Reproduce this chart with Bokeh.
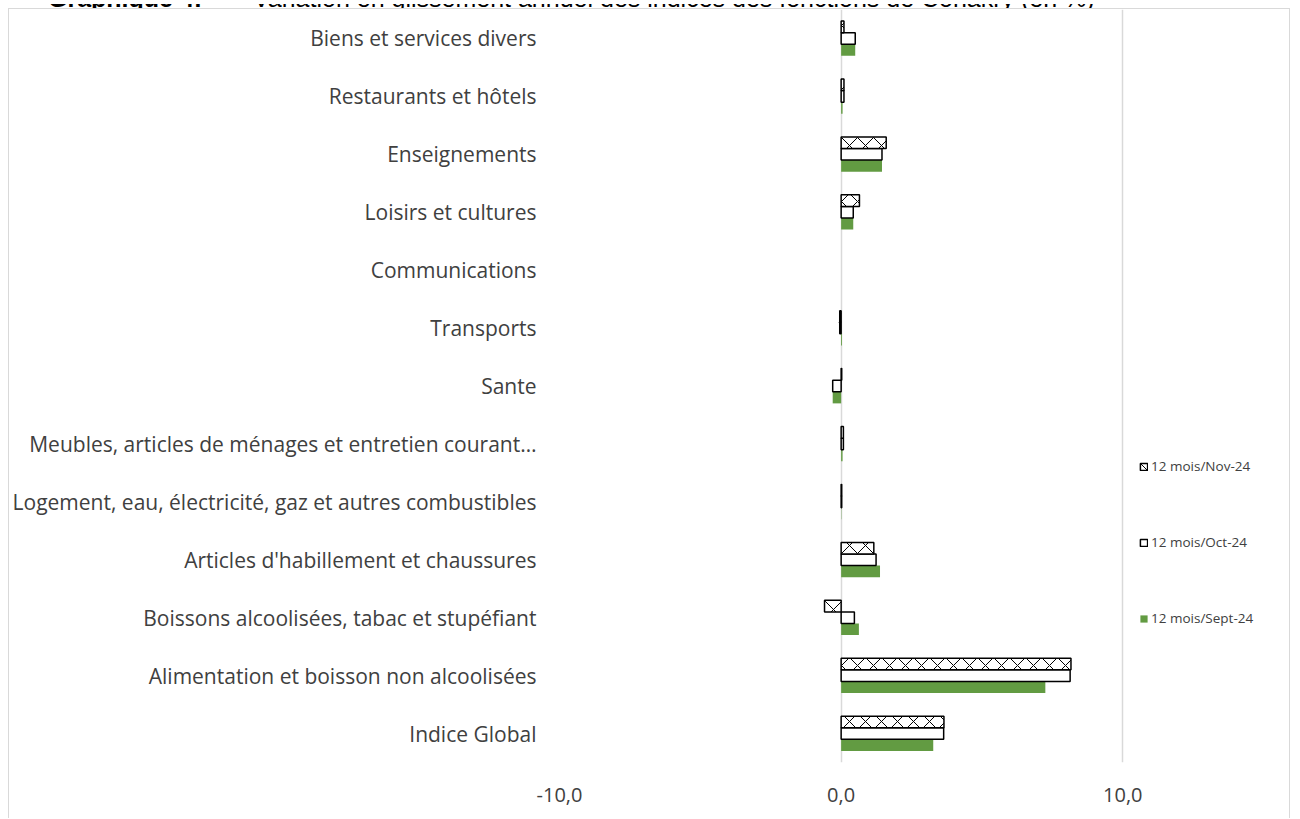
from bokeh.plotting import figure
from bokeh.models import (ColumnDataSource, FactorRange, Range1d, FixedTicker,
                          Legend, LegendItem, Div)
from bokeh.layouts import column
from bokeh.transform import dodge
from bokeh.embed import file_html
from bokeh.resources import INLINE

NaN = float("nan")

# ---- data (top to bottom as in the reference) ----
categories = [
    "Biens et services divers",
    "Restaurants et hôtels",
    "Enseignements",
    "Loisirs et cultures",
    "Communications",
    "Transports",
    "Sante",
    "Meubles, articles de ménages et entretien courant…",
    "Logement, eau, électricité, gaz et autres combustibles",
    "Articles d'habillement et chaussures",
    "Boissons alcoolisées, tabac et stupéfiant",
    "Alimentation et boisson non alcoolisées",
    "Indice Global",
]
nov_24 = [0.10, 0.10, 1.60, 0.65, NaN, -0.05, 0.02, 0.08, 0.02, 1.16, -0.59, 8.16, 3.65]
oct_24 = [0.50, 0.10, 1.45, 0.43, NaN, -0.05, -0.30, 0.08, 0.02, 1.24, 0.47, 8.13, 3.64]
sept_24 = [0.50, 0.05, 1.45, 0.43, NaN, 0.03, -0.30, 0.05, 0.01, 1.38, 0.63, 7.25, 3.27]
series_names = ["12 mois/Nov-24", "12 mois/Oct-24", "12 mois/Sept-24"]
x_ticks = [-10, 0, 10]
x_tick_labels = ["-10,0", "0,0", "10,0"]
title_bold = "Graphique 4:"
title_rest = "Variation en glissement annuel des indices des fonctions de Conakry (en %)"

src = ColumnDataSource(dict(cat=categories, nov=nov_24, oct=oct_24, sept=sept_24))

GREEN = "#629B42"
TXT = "#404040"
FONT = "Open Sans"

# ---- title strip (the reference shows it cropped at the top edge) ----
title_html = (
    '<div style="position:relative;width:1300px;height:8px;overflow:hidden;'
    "font-family:'Liberation Sans',Arial,sans-serif;font-size:25px;line-height:25px;"
    'color:#000;white-space:nowrap;">'
    f'<span style="position:absolute;left:48px;top:-18px;font-weight:bold;">{title_bold}</span>'
    f'<span style="position:absolute;left:253px;top:-18px;">{title_rest}</span>'
    '</div>'
)
title_div = Div(text=title_html, width=1300, height=8, margin=0,
                styles={"overflow": "hidden"})

# ---- chart ----
p = figure(width=1282, height=810, output_backend="svg", toolbar_location=None,
           y_range=FactorRange(factors=list(reversed(categories)), range_padding=0),
           x_range=Range1d(-10, 15.99),
           min_border_left=549, min_border_right=0, min_border_top=0,
           min_border_bottom=57)
p.margin = (0, 0, 0, 8)
p.styles = {"border-top": "1px solid #D9D9D9", "border-left": "1px solid #D9D9D9",
            "border-right": "1px solid #D9D9D9"}
p.outline_line_color = None
p.background_fill_color = "white"
p.border_fill_color = "white"

r_sept = p.hbar(y=dodge("cat", -0.2, range=p.y_range), left=0, right="sept", height=0.2,
                source=src, fill_color=GREEN, line_color=None)
r_oct = p.hbar(y=dodge("cat", 0.0, range=p.y_range), left=0, right="oct", height=0.2,
               source=src, fill_color="white", line_color="black", line_width=1.5)
r_nov = p.hbar(y=dodge("cat", 0.2, range=p.y_range), left=0, right="nov", height=0.2,
               source=src, fill_color="white", line_color="black", line_width=1.5,
               hatch_pattern="diagonal_cross", hatch_scale=16, hatch_weight=1,
               hatch_color="black")

# axes
for ax in (p.xaxis[0], p.yaxis[0]):
    ax.axis_line_color = None
    ax.major_tick_line_color = None
    ax.minor_tick_line_color = None
    ax.major_tick_out = 0
    ax.major_tick_in = 0
    ax.minor_tick_out = 0
    ax.minor_tick_in = 0
    ax.major_label_text_font = FONT
    ax.major_label_text_color = TXT

p.xaxis.ticker = FixedTicker(ticks=x_ticks)
p.xaxis.major_label_overrides = {t: l for t, l in zip(x_ticks, x_tick_labels)}
p.xaxis.major_label_standoff = 25
p.xaxis.major_label_text_font_size = "20px"

p.yaxis.major_label_standoff = 23
p.yaxis.major_label_text_font_size = "21px"

p.xgrid.ticker = FixedTicker(ticks=x_ticks)
p.xgrid.grid_line_color = "#D9D9D9"
p.xgrid.grid_line_width = 1.5
p.ygrid.grid_line_color = None

# legend
legend = Legend(items=[LegendItem(label=series_names[0], renderers=[r_nov]),
                       LegendItem(label=series_names[1], renderers=[r_oct]),
                       LegendItem(label=series_names[2], renderers=[r_sept])],
                location=(580, 135), orientation="vertical",
                glyph_width=9, glyph_height=9, label_height=15, spacing=58,
                padding=0, margin=0, border_line_color=None,
                background_fill_alpha=0,
                label_text_font=FONT, label_text_font_size="13.5px",
                label_text_color=TXT, label_standoff=3)
p.add_layout(legend, "center")

layout = column(title_div, p, spacing=0, margin=0)

open("out.html", "w").write(file_html(layout, INLINE))
